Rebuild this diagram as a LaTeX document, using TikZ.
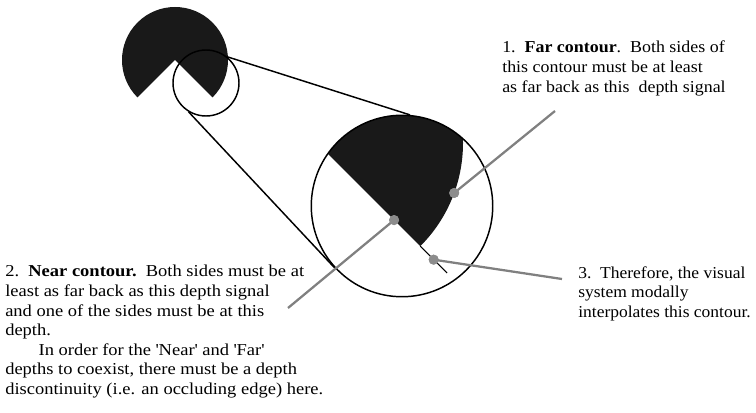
\documentclass[tikz,border=0pt]{standalone}
\usepackage{fontspec}
\setmainfont[FakeStretch=1.11]{Liberation Serif}
\newfontfamily\notefontA[FakeStretch=1.075]{Liberation Serif}
\newfontfamily\notefontC[FakeStretch=1.05]{Liberation Serif}
\begin{document}
\begin{tikzpicture}[x=0.75pt,y=-0.75pt,
  outline/.style={line width=1.1pt},
  lens/.style={circle, draw, line width=1.1pt, inner sep=0pt},
  pointer/.style={draw=black!50, line width=1.7pt},
  depthdot/.style={circle, fill=black!45, inner sep=0pt, minimum size=7.5pt},
  note/.style={align=left, anchor=north west, inner sep=0pt, font=\fontsize{12.5}{14.7}\selectfont},
  ink/.style={fill=black!90}]
\useasboundingbox (0,0) rectangle (756,413);
% small inducer
\fill[ink] (175,60) -- +(45:53) arc[start angle=45, end angle=-225, radius=53] -- cycle;
\node[lens, minimum size=49.5pt] (small) at (206,83) {};
% magnified view
\coordinate (bigv) at (317,143);
\begin{scope}
  \clip (402,206) circle[radius=90.75];
  \fill[ink] (bigv) -- +(45:146) arc[start angle=45, end angle=-225, radius=146] -- cycle;
\end{scope}
\node[lens, minimum size=136.1pt] (big) at (402,206) {};
\draw[outline] (small.51) -- (big.85);
\draw[outline] (small.239) -- (big.223);
% interpolated contour
\path (bigv) ++(45:146) coordinate (tip);
\path (bigv) ++(45:184) coordinate (interpend);
\draw[line width=0.8pt] (tip) -- (interpend);
% depth signal dots
\path (bigv) ++(20:146) node[depthdot] (fardot) {};
\path (bigv) ++(45:109) node[depthdot] (neardot) {};
\path (bigv) ++(45:165) node[depthdot] (interpdot) {};
\coordinate (farend) at (555,111);
\coordinate (nearend) at (288,308);
\coordinate (interpend2) at (562,279);
\draw[pointer] (fardot.center) -- (farend);
\draw[pointer] (neardot.center) -- (nearend);
\draw[pointer] (interpdot.center) -- (interpend2);
\node[depthdot] at (fardot) {};
\node[depthdot] at (neardot) {};
\node[depthdot] at (interpdot) {};
% texts
\node[note, font=\fontsize{12.5}{14.7}\notefontA] (far) at (502,41) {1.\ \ \textbf{Far contour}.\ \ Both sides of\\this contour must be at least\\as far back as this\ \ depth signal};
\node[note] (near) at (5,265) {2.\ \ \textbf{Near contour.}\ \ Both sides must be at\\least as far back as this depth signal\\and one of the sides must be at this\\depth.\\\hspace*{2em}In order for the \textquotesingle Near\textquotesingle\ and \textquotesingle Far\textquotesingle\\depths to coexist, there must be a depth\\discontinuity (i.e. an occluding edge) here.};
\node[note, font=\fontsize{12.5}{14.7}\notefontC] (interp) at (578,266) {3.\ \ Therefore, the visual\\system modally\\interpolates this contour.};
\end{tikzpicture}
\end{document}
